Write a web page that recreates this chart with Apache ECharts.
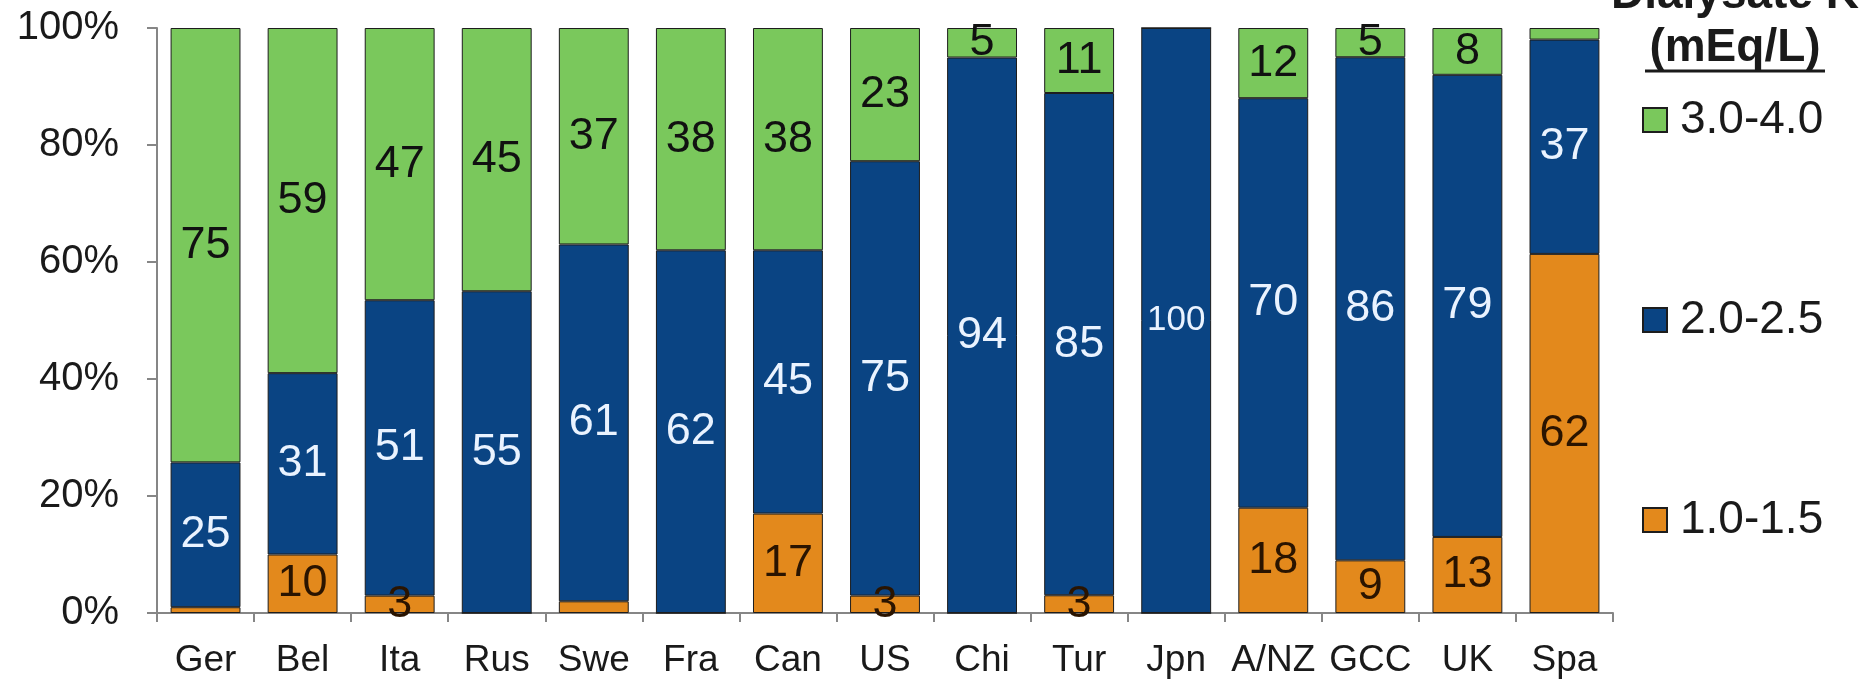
<!DOCTYPE html>
<html>
<head>
<meta charset="utf-8">
<script src="https://cdn.jsdelivr.net/npm/echarts@6/dist/echarts.min.js"></script>
<style>
html,body{margin:0;padding:0;background:#fff;}
#chart{width:1875px;height:679px;}
</style>
</head>
<body>
<div id="chart"></div>
<script>
const categories = ['Ger','Bel','Ita','Rus','Swe','Fra','Can','US','Chi','Tur','Jpn','A/NZ','GCC','UK','Spa'];
const seriesNames = ['1.0-1.5','2.0-2.5','3.0-4.0'];
const low  = [1,10,3,0,2,0,17,3,0,3,0,18,9,13,62];
const mid  = [25,31,51,55,61,62,45,75,94,85,100,70,86,79,37];
const high = [75,59,47,45,37,38,38,23,5,11,0,12,5,8,2];
const yTicks = [0,20,40,60,80,100];
const legendTitle = ['Dialysate K','(mEq/L)'];

const FONT = '"Liberation Sans", Arial, Helvetica, sans-serif';
const colors = ['#E3891C','#0A4483','#7AC85C'];
const labelColors = ['#2a1400','#EAF3FF','#111111'];
const raws = [low, mid, high];
const totals = categories.map((c,i)=> low[i]+mid[i]+high[i]);

const series = raws.map((arr, si) => ({
  name: seriesNames[si],
  type: 'bar',
  stack: 'total',
  barWidth: '72%',
  itemStyle: {color: colors[si], borderColor: '#1d1d1d', borderWidth: 1},
  label: {
    show: true,
    position: 'inside',
    fontFamily: FONT,
    fontSize: 45,
    color: labelColors[si],
    formatter: p => (p.data.raw >= 3 ? String(p.data.raw) : '')
  },
  data: arr.map((v,i) => ({
    value: v / totals[i] * 100,
    raw: v,
    label: v >= 100 ? {fontSize: 35} : undefined
  }))
}));

const chart = echarts.init(document.getElementById('chart'));
chart.setOption({
  animation: false,
  backgroundColor: '#ffffff',
  grid: {left: 157, right: 262, top: 28, bottom: 63, containLabel: false},
  xAxis: {
    type: 'category',
    data: categories,
    axisLine: {show: true, lineStyle: {color: '#868686', width: 2}},
    axisTick: {show: true, length: 9, lineStyle: {color: '#868686', width: 2}},
    axisLabel: {interval: 0, fontFamily: FONT, fontSize: 37, color: '#1a1a1a', margin: 29}
  },
  yAxis: {
    type: 'value',
    min: yTicks[0],
    max: yTicks[yTicks.length-1],
    interval: 20,
    splitLine: {show: false},
    axisLine: {show: true, lineStyle: {color: '#868686', width: 2}},
    axisTick: {show: true, length: 10, lineStyle: {color: '#868686', width: 2}},
    axisLabel: {fontFamily: FONT, fontSize: 40, color: '#1a1a1a', margin: 38, formatter: '{value}%'}
  },
  legend: {
    orient: 'vertical',
    left: 1637,
    top: 92,
    itemWidth: 24,
    itemHeight: 24,
    itemGap: 154,
    icon: 'rect',
    data: [seriesNames[2], seriesNames[1], seriesNames[0]],
    textStyle: {fontFamily: FONT, fontSize: 46, color: '#1a1a1a', padding: [0,0,0,8]}
  },
  graphic: [
    {type: 'text', x: 1735, y: -5, style: {text: legendTitle[0], font: 'bold 46px ' + FONT, fill: '#1a1a1a', align: 'center', verticalAlign: 'middle'}},
    {type: 'text', x: 1735, y: 48, style: {text: legendTitle[1], font: 'bold 46px ' + FONT, fill: '#1a1a1a', align: 'center', verticalAlign: 'middle'}},
    {type: 'line', shape: {x1: 1645, y1: 71, x2: 1825, y2: 71}, style: {stroke: '#1a1a1a', lineWidth: 3}}
  ],
  series: series
});
</script>
</body>
</html>
